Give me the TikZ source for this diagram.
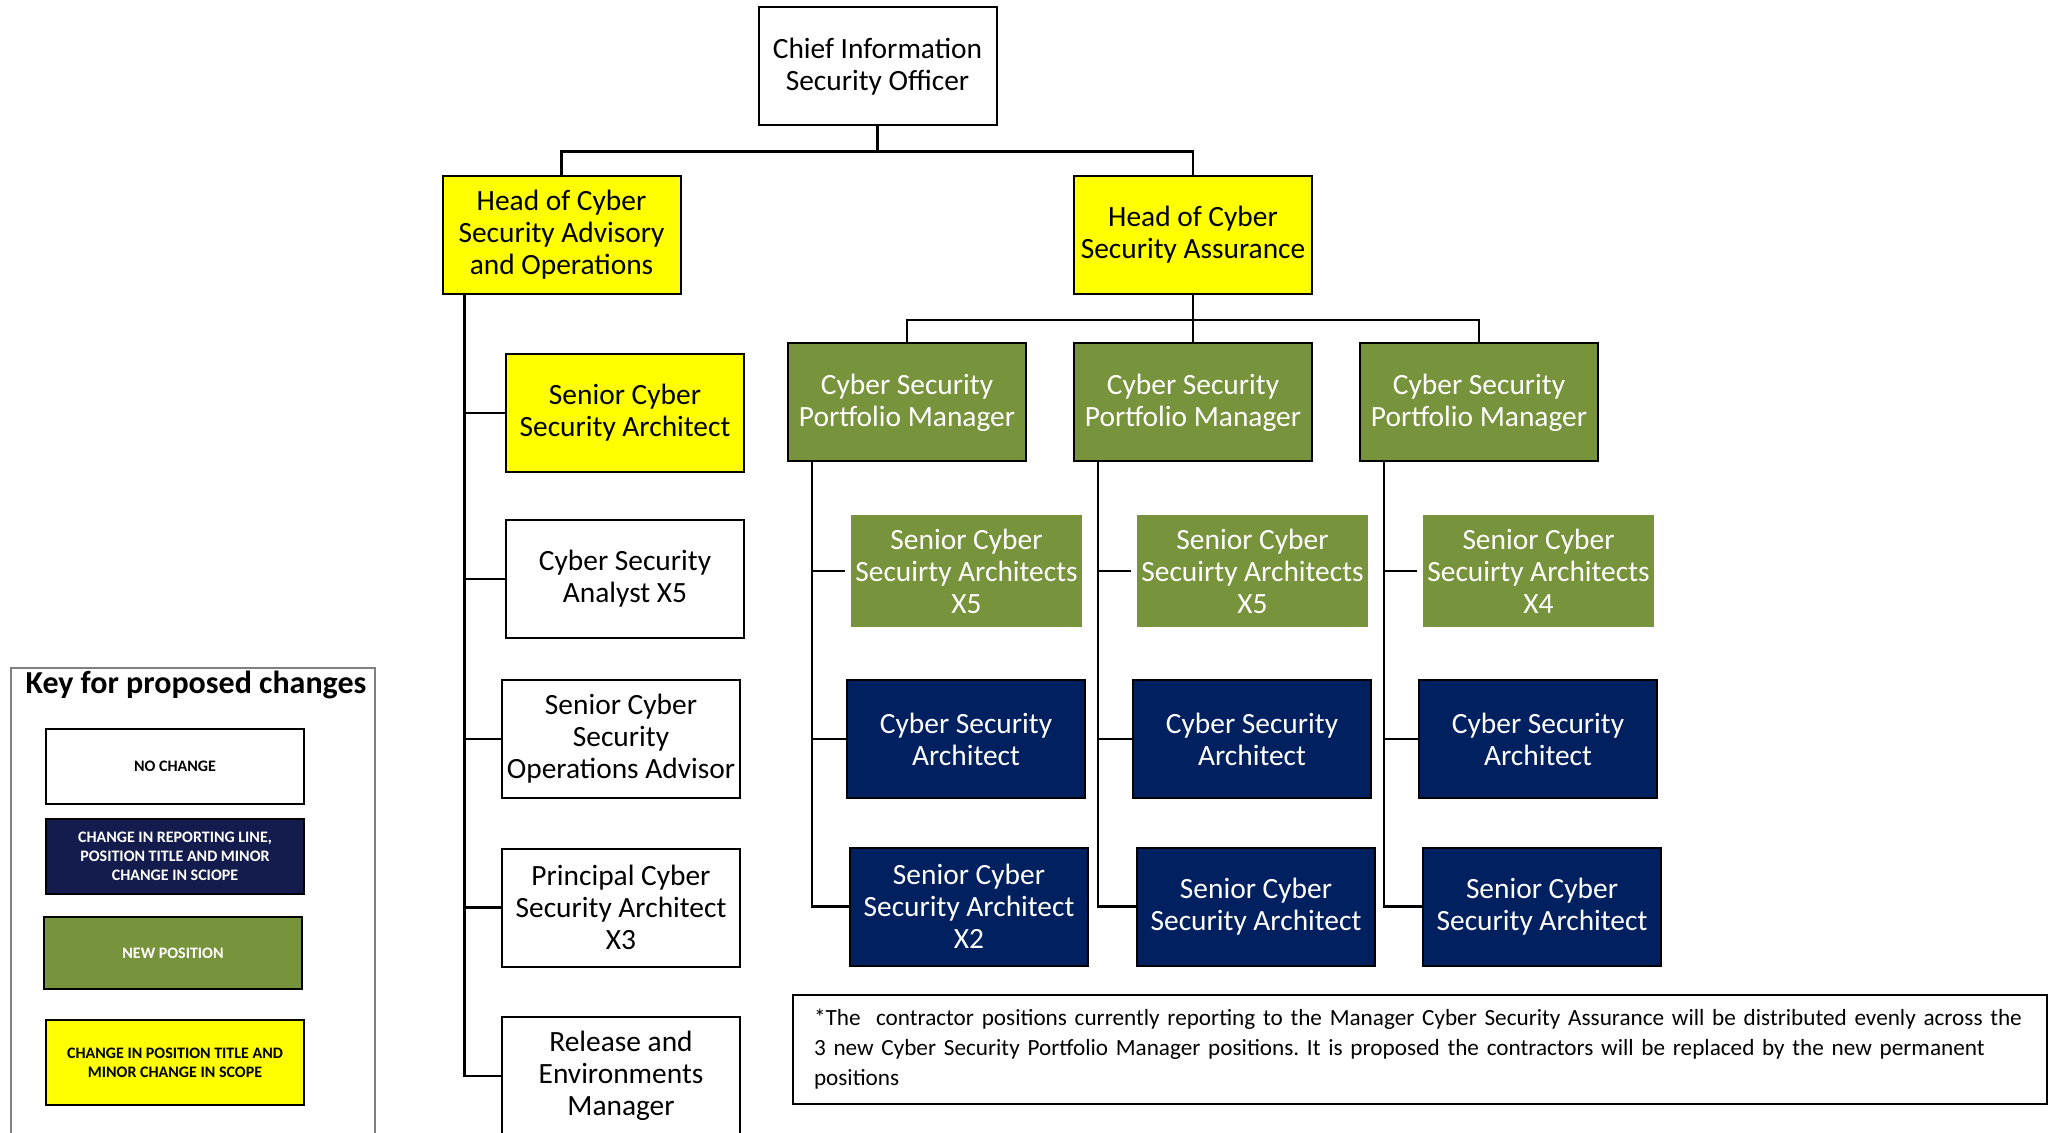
\documentclass[tikz,border=0pt]{standalone}
\usepackage{fontspec}
\setmainfont{Carlito}
\usepackage{xcolor}
\usepackage{tikz}
\frenchspacing

\definecolor{cyyellow}{HTML}{FFFF00}
\definecolor{cygreen}{HTML}{77933C}
\definecolor{cynavy}{HTML}{002060}
\definecolor{keynavy}{HTML}{141C4D}
\definecolor{keygray}{HTML}{808080}

\tikzset{
    role/.style={draw, line width=1pt, minimum width=119pt, minimum height=59pt,
        inner sep=1pt, align=center, font=\fontsize{14.7}{16}\selectfont},
    rolewhite/.style={role, fill=white},
    roleyellow/.style={role, fill=cyyellow},
    rolegreen/.style={role, fill=cygreen, text=white},
    rolenavy/.style={role, fill=cynavy, text=white},
    rolenew/.style={rolegreen, draw=none, minimum width=115.5pt, minimum height=56pt},
    link/.style={draw, line width=1.1pt},
    keybox/.style={draw, line width=0.8pt, minimum width=129pt, minimum height=37.5pt,
        align=center, font=\bfseries\fontsize{8}{9.5}\selectfont}
}

\begin{document}
\begin{tikzpicture}[x=0.5pt,y=-0.5pt]
    \useasboundingbox (0,0) rectangle (2049,1133);

    % Top of the chart
    \node[rolewhite] (ciso) at (877.5,66.5) {Chief Information\\Security Officer};
    \node[roleyellow] (headadv) at (561.5,235) {Head of Cyber\\Security Advisory\\and Operations};
    \node[roleyellow] (headass) at (1193,235) {Head of Cyber\\Security Assurance};

    \draw[link] (ciso.south) -- ++(0,25) -| (headadv.north);
    \draw[link] (ciso.south) -- ++(0,25) -| (headass.north);

    % Advisory and operations column
    \node[roleyellow] (sarch) at (625,413) {Senior Cyber\\Security Architect};
    \node[rolewhite] (analyst) at (625,579) {Cyber Security\\Analyst X5};
    \node[rolewhite] (opsadv) at (621,739) {Senior Cyber\\Security\\Operations Advisor};
    \node[rolewhite] (princ) at (621,907.5) {Principal Cyber\\Security Architect\\X3};
    \node[rolewhite] (release) at (621,1076) {Release and\\Environments\\Manager};

    \foreach \b in {sarch,analyst,opsadv,princ,release} {
        \draw[link] ([xshift=11.5pt]headadv.south west) |- (\b.west);
    }

    % Assurance: three portfolio managers and their teams
    \foreach \i/\x/\n in {1/813/5,2/1099/5,3/1385/4} {
        \node[rolegreen] (pm\i) at (\x+94,402.5) {Cyber Security\\Portfolio Manager};
        \node[rolenew] (sca\i) at (\x+153.5,571) {Senior Cyber\\Secuirty Architects\\X\n};
        \node[rolenavy] (csa\i) at (\x+153,739) {Cyber Security\\Architect};
        \draw[link] (headass.south) -- ++(0,25) -| (pm\i.north);
        \draw[link, shorten >=2.5pt] ([xshift=12.5pt]pm\i.south west) |- (sca\i.west);
        \draw[link] ([xshift=12.5pt]pm\i.south west) |- (csa\i.west);
    }
    \node[rolenavy] (ssa1) at (969,906.5) {Senior Cyber\\Security Architect\\X2};
    \node[rolenavy] (ssa2) at (1256,906.5) {Senior Cyber\\Security Architect};
    \node[rolenavy] (ssa3) at (1542,906.5) {Senior Cyber\\Security Architect};
    \foreach \i in {1,2,3} {
        \draw[link] ([xshift=12.5pt]pm\i.south west) |- (ssa\i.west);
    }

    % Note on contractors
    \node[draw, line width=1pt, anchor=north west, minimum width=627pt, minimum height=54.5pt,
        text width=606pt, inner xsep=10.5pt, inner ysep=6pt, align=left,
        font=\fontsize{11.6}{15}\selectfont] (note) at (792,994)
        {*The~ contractor positions currently reporting to the Manager Cyber Security Assurance will be distributed evenly across the\\
         3 new Cyber Security Portfolio Manager positions. It is proposed the contractors will be replaced by the new permanent\\
         positions};

    % Key
    \node[draw=keygray, line width=1pt, anchor=north west, minimum width=182pt,
        minimum height=245pt] (key) at (10,667) {};
    \node[font=\bfseries\fontsize{16}{19}\selectfont] (keytitle) at (196,685) {Key for proposed changes};
    \node[keybox, fill=white] (keynone) at (175,766.5) {NO CHANGE};
    \node[keybox, fill=keynavy, text=white] (keyline) at (175,856.5)
        {CHANGE IN REPORTING LINE,\\POSITION TITLE AND MINOR\\CHANGE IN SCIOPE};
    \node[keybox, fill=cygreen, text=white, minimum height=36pt] (keynew) at (173,953) {NEW POSITION};
    \node[keybox, fill=cyyellow, minimum height=42.5pt] (keytitlechg) at (175,1062.5)
        {CHANGE IN POSITION TITLE AND\\MINOR CHANGE IN SCOPE};
\end{tikzpicture}
\end{document}
